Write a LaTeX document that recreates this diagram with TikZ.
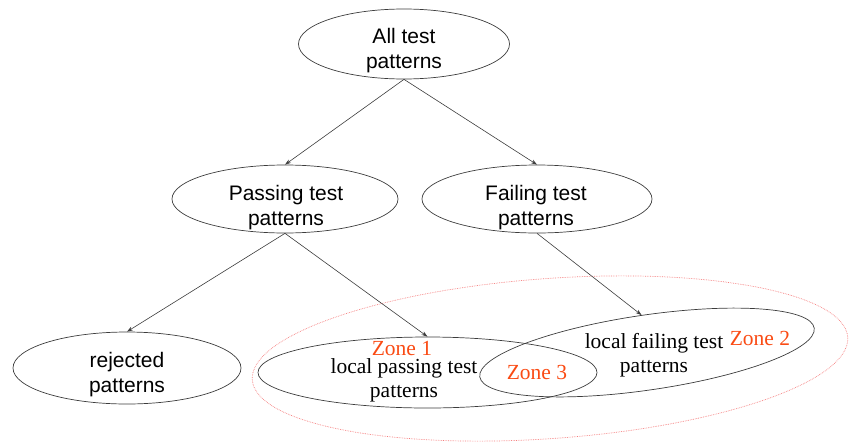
\documentclass[tikz,border=0pt]{standalone}
\usepackage{fontspec}
\setmainfont{Liberation Serif}
\setsansfont{Liberation Sans}
\definecolor{ZoneRed}{RGB}{250,75,20}
\definecolor{ZoneLine}{RGB}{245,125,125}
\definecolor{EdgeGray}{RGB}{60,60,60}
\usetikzlibrary{shapes.geometric,arrows.meta}

\begin{document}
\begin{tikzpicture}[x=1pt,y=-1pt,
    oval/.style={ellipse,draw=EdgeGray,line width=0.7pt,inner sep=0pt},
    sans/.style={font=\sffamily\fontsize{21}{25.5}\selectfont,align=center},
    serif/.style={font=\fontsize{21.5}{24}\selectfont,align=center},
    zone/.style={font=\fontsize{21.5}{24}\selectfont,text=ZoneRed,anchor=base},
    group/.style={ellipse,draw=ZoneLine,densely dotted,line width=0.7pt,inner sep=0pt},
    arr/.style={-{Stealth[length=6pt,width=4pt]},EdgeGray,line width=0.6pt}]
  \useasboundingbox (0,0) rectangle (850,442);
  \node[group,minimum width=597pt,minimum height=160pt,rotate=4.1] (zones) at (550,358.5) {};
  \node[oval,minimum width=211pt,minimum height=70pt] (all) at (404,44) {};
  \node[oval,minimum width=226pt,minimum height=68pt] (pass) at (285,199) {};
  \node[oval,minimum width=230pt,minimum height=68pt] (fail) at (537,199) {};
  \node[oval,minimum width=228pt,minimum height=72pt] (rej) at (127,368) {};
  \node[oval,minimum width=339pt,minimum height=71pt] (lpass) at (427.5,372.5) {};
  \node[oval,minimum width=338pt,minimum height=75pt,rotate=8.3] (lfail) at (647,352.5) {};
  \node[sans] (allT) at (404,50.5) {All test\\patterns};
  \node[sans] (passT) at (286,207.5) {Passing test\\patterns};
  \node[sans] (failT) at (536,207.5) {Failing test\\patterns};
  \node[sans] (rejT) at (127,374.5) {rejected\\patterns};
  \node[serif] (lpassT) at (404,380.5) {local passing test\\patterns};
  \node[serif] (lfailT) at (654,355.5) {local failing test\\patterns};
  \node[zone] (zone1) at (402,355) {Zone 1};
  \node[zone] (zone2) at (760,345) {Zone 2};
  \node[zone] (zone3) at (537,379) {Zone 3};
  \draw[arr] (all.south) -- (pass.north); \draw[arr] (all.south) -- (fail.north);
  \draw[arr] (pass.south) -- (rej.north); \draw[arr] (pass.south) -- (lpass.north);
  \draw[arr] (fail.south) -- (lfail.north);
\end{tikzpicture}
\end{document}
